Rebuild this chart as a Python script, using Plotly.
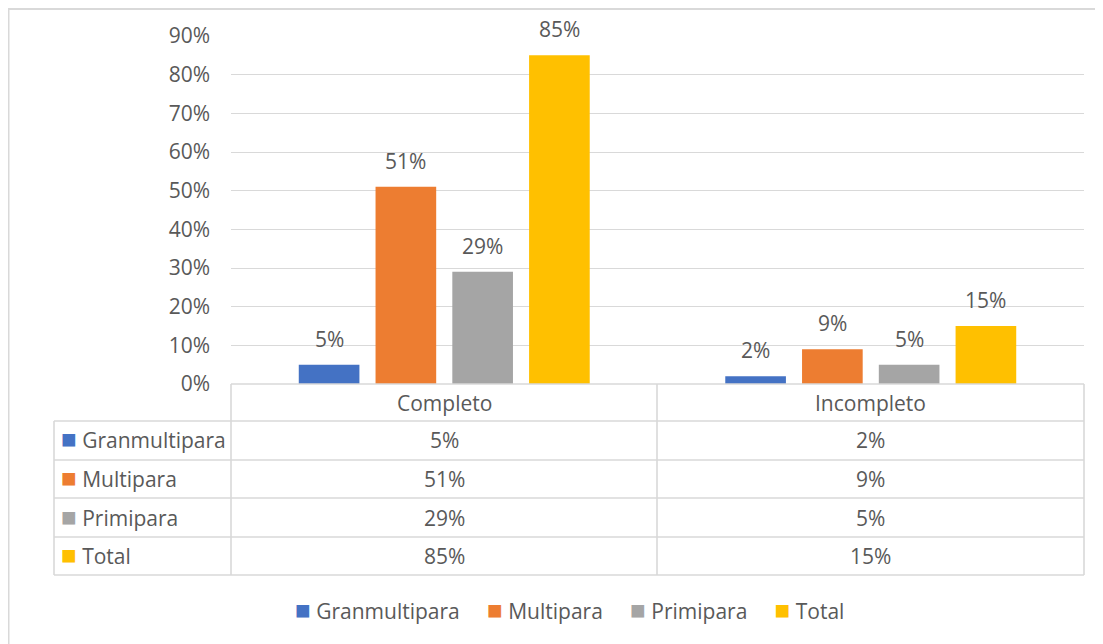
import plotly.graph_objects as go

categories = ["Completo", "Incompleto"]
series_names = ["Granmultipara", "Multipara", "Primipara", "Total"]
granmultipara = [5, 2]
multipara = [51, 9]
primipara = [29, 5]
total = [85, 15]
y_ticks = [0, 10, 20, 30, 40, 50, 60, 70, 80, 90]

colors = ["#4472C4", "#ED7D31", "#A5A5A5", "#FFC000"]
TXT = "#595959"
LINE = "#D9D9D9"
FONT = "Open Sans"
FS = 21
W, H = 1103, 644
OFF = 8  # page body margin
BARGAP = 0.28
PLOT_L, PLOT_R = 231, 1084


def px(x):
    return (x - OFF) / W


def py(y):
    return 1 - (y - OFF) / H


fig = go.Figure()
all_values = [granmultipara, multipara, primipara, total]
for name, vals, col in zip(series_names, all_values, colors):
    fig.add_trace(go.Bar(
        x=categories, y=vals, name=name,
        marker=dict(color=col, line=dict(width=0)),
        showlegend=False,
    ))

fig.update_layout(
    template="none",
    width=W, height=H,
    margin=dict(l=0, r=0, t=0, b=0, autoexpand=False),
    paper_bgcolor="white", plot_bgcolor="white",
    barmode="group", bargap=BARGAP, bargroupgap=0.21,
    font=dict(family=FONT, size=FS, color=TXT),
    xaxis=dict(domain=[px(PLOT_L), px(PLOT_R)], showticklabels=False,
               showline=False, showgrid=False, zeroline=False, automargin=False),
    yaxis=dict(domain=[py(384), py(36)], range=[0, 90],
               tickvals=y_ticks, ticktext=[f"{v}%" for v in y_ticks],
               showgrid=True, gridcolor=LINE, gridwidth=1.3,
               zeroline=False, showline=False, ticks="",
               ticklabelstandoff=20, automargin=False,
               tickfont=dict(family=FONT, size=FS, color=TXT)),
    showlegend=False,
)

# data labels above bars
slot = (PLOT_R - PLOT_L) / len(categories) * (1 - BARGAP) / len(series_names)
for i, vals in enumerate(all_values):
    for cat, v in zip(categories, vals):
        fig.add_annotation(x=cat, y=v, xref="x", yref="y", text=f"{v}%",
                           showarrow=False, yanchor="middle",
                           xshift=(i - 1.5) * slot, yshift=26,
                           font=dict(family=FONT, size=FS, color=TXT))

shapes = []
line = dict(color=LINE, width=1.6)
# outer chart border
shapes.append(dict(type="line", xref="paper", yref="paper",
                   x0=px(8.5), x1=px(8.5), y0=py(9), y1=-0.05, line=dict(color=LINE, width=2)))
shapes.append(dict(type="line", xref="paper", yref="paper",
                   x0=px(8), x1=1, y0=py(9), y1=py(9), line=dict(color=LINE, width=2)))
# data table grid
shapes.append(dict(type="line", xref="paper", yref="paper",
                   x0=px(PLOT_L), x1=px(PLOT_R), y0=py(384), y1=py(384), line=line))
for yy in [421, 460, 498, 537, 575]:
    shapes.append(dict(type="line", xref="paper", yref="paper",
                       x0=px(54), x1=px(PLOT_R), y0=py(yy), y1=py(yy), line=line))
shapes.append(dict(type="line", xref="paper", yref="paper",
                   x0=px(54), x1=px(54), y0=py(421), y1=py(575), line=line))
for xx in [PLOT_L, 657, PLOT_R]:
    shapes.append(dict(type="line", xref="paper", yref="paper",
                       x0=px(xx), x1=px(xx), y0=py(384), y1=py(575), line=line))
fig.update_layout(shapes=shapes)

sq = "<span style='color:{};font-size:26px'>■</span>"

# table header
for cat in categories:
    fig.add_annotation(x=cat, xref="x", y=py(403), yref="paper", text=cat,
                       showarrow=False, font=dict(family=FONT, size=FS, color=TXT))

row_y = [440, 479, 518, 556]
for name, vals, col, yy in zip(series_names, all_values, colors, row_y):
    fig.add_annotation(x=px(59), xref="paper", y=py(yy), yref="paper",
                       xanchor="left", yanchor="middle", yshift=2,
                       text=sq.format(col) + " " + name,
                       showarrow=False, font=dict(family=FONT, size=FS, color=TXT))
    for cat, v in zip(categories, vals):
        fig.add_annotation(x=cat, xref="x", y=py(yy), yref="paper",
                           text=f"{v}%", showarrow=False, yanchor="middle",
                           font=dict(family=FONT, size=FS, color=TXT))

# legend below the table
gap = "\u00a0" * 5
legend_text = gap.join(sq.format(c) + " " + n for n, c in zip(series_names, colors))
fig.add_annotation(x=px(569), xref="paper", y=py(609), yref="paper",
                   text=legend_text, showarrow=False, yanchor="middle",
                   font=dict(family=FONT, size=FS, color=TXT))

fig.write_html("out.html")
